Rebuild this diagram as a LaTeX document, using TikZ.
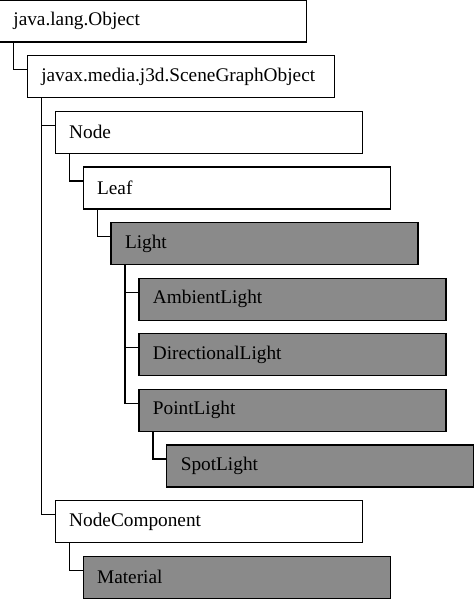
\documentclass[tikz,border=0pt]{standalone}
\usepackage{fontspec}
\setmainfont{Liberation Serif}
\usepackage{tikz}
\usetikzlibrary{positioning}
\tikzset{every picture/.style={line width=1.2pt},
cls/.style={draw,rectangle,anchor=north west,text width=279pt,inner xsep=14pt,inner ysep=0pt,outer sep=0pt,minimum height=42pt,align=left,font=\fontsize{19.3}{23}\selectfont},
graycls/.style={cls,fill=black!46}}

\begin{document}
\begin{tikzpicture}[x=1pt,y=-1pt]
\useasboundingbox (0,0) rectangle (474,599);
\node (obj) [cls] at (-0.6,0.1) {java.lang.Object};
\node (sgo) [cls, below right=13.6pt and 27.9pt of obj.south west] {javax.media.j3d.SceneGraphObject};
\node (nd) [cls, below right=13.6pt and 27.9pt of sgo.south west] {Node};
\node (leaf) [cls, below right=13.6pt and 27.9pt of nd.south west] {Leaf};
\node (light) [graycls, below right=13.6pt and 27.9pt of leaf.south west] {Light};
\node (amb) [graycls, below right=13.6pt and 27.9pt of light.south west] {AmbientLight};
\node (dir) [graycls, below right=13.6pt and 0pt of amb.south west] {DirectionalLight};
\node (pt) [graycls, below right=13.6pt and 0pt of dir.south west] {PointLight};
\node (spot) [graycls, below right=13.6pt and 27.9pt of pt.south west] {SpotLight};
\node (ncomp) [cls, below right=13.6pt and -111.6pt of spot.south west] {NodeComponent};
\node (mat) [graycls, below right=13.6pt and 27.9pt of ncomp.south west] {Material};


\draw ([xshift=14pt]obj.south west) |- ([yshift=-14pt]sgo.north west);
\draw ([xshift=14pt]sgo.south west) |- ([yshift=-14pt]nd.north west);
\draw ([xshift=14pt]sgo.south west) |- ([yshift=-14pt]ncomp.north west);
\draw ([xshift=14pt]nd.south west) |- ([yshift=-14pt]leaf.north west);
\draw ([xshift=14pt]leaf.south west) |- ([yshift=-14pt]light.north west);
\draw ([xshift=14pt]light.south west) |- ([yshift=-14pt]amb.north west);
\draw ([xshift=14pt]light.south west) |- ([yshift=-14pt]dir.north west);
\draw ([xshift=14pt]light.south west) |- ([yshift=-14pt]pt.north west);
\draw ([xshift=14pt]pt.south west) |- ([yshift=-14pt]spot.north west);
\draw ([xshift=14pt]ncomp.south west) |- ([yshift=-14pt]mat.north west);
\end{tikzpicture}
\end{document}
